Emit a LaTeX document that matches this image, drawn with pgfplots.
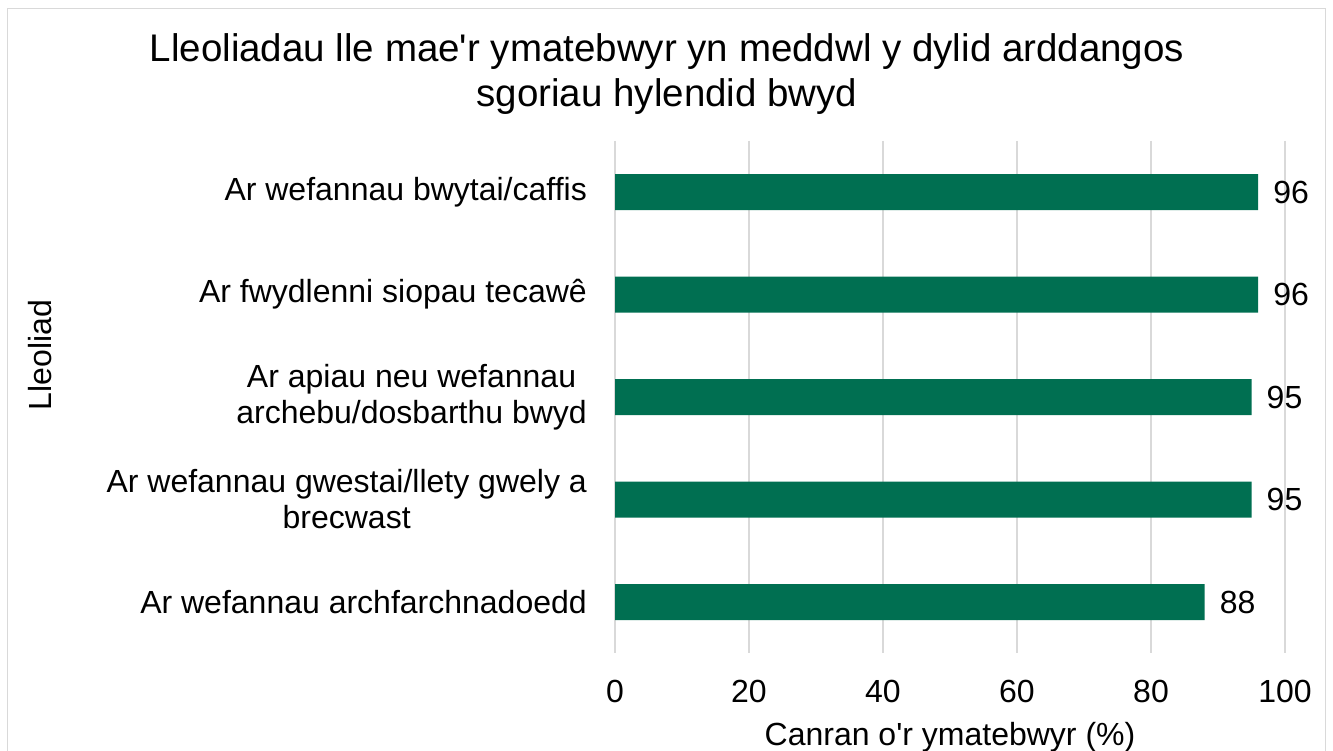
\documentclass[border=0pt]{standalone}
\usepackage{fontspec}
\setmainfont{Liberation Sans}
\usepackage{pgfplots}
\pgfplotsset{compat=1.18}
\definecolor{barc}{HTML}{006F51}
\definecolor{gridc}{HTML}{D9D9D9}
\begin{document}
\begin{tikzpicture}[x=1pt,y=1pt]
\useasboundingbox (0,0) rectangle (1333,-751);
\draw[gridc, line width=1.5pt] (7.5,-800) -- (7.5,-8.5) -- (1325.5,-8.5) -- (1325.5,-800);
\node[align=center, font=\fontsize{38.5}{44.5}\selectfont] at (667,-74) {Lleoliadau lle mae\textquotesingle r ymatebwyr yn meddwl y dylid arddangos\\sgoriau hylendid bwyd};
\node[rotate=90, font=\fontsize{32}{36}\selectfont] at (40,-355) {Lleoliad};
\begin{axis}[
  at={(615pt,-653.25pt)}, anchor=south west,
  scale only axis, width=670pt, height=512.5pt,
  xbar, bar width=36pt,
  xmin=0, xmax=100, ymin=-0.5, ymax=4.5,
  y dir=reverse,
  ytick={0,1,2,3,4},
  yticklabels={Ar wefannau bwytai/caffis, Ar fwydlenni siopau tecawê, {Ar apiau neu wefannau\\archebu/dosbarthu bwyd}, {Ar wefannau gwestai/llety gwely a\\brecwast}, Ar wefannau archfarchnadoedd},
  xtick={0,20,40,60,80,100},
  xmajorgrids, ymajorgrids=false,
  grid style={gridc, line width=1.5pt},
  axis line style={draw=none},
  major tick length=0pt,
  /pgf/number format/assume math mode=true,
  tick label style={font=\fontsize{32}{36}\selectfont},
  yticklabel style={align=center, inner sep=0pt, xshift=-28pt},
  xticklabel style={inner sep=0pt, yshift=-27pt},
  nodes near coords,
  nodes near coords style={anchor=west, inner sep=0pt, xshift=15pt, font=\fontsize{32}{36}\selectfont, /pgf/number format/assume math mode=true},
  xlabel={Canran o\textquotesingle r ymatebwyr (\%)},
  xlabel style={at={(axis description cs:0.5,0)}, anchor=center, yshift=-84pt, font=\fontsize{32}{36}\selectfont},
]
\addplot[fill=barc, draw=none] coordinates {(96,0) (96,1) (95,2) (95,3) (88,4)};
\end{axis}
\end{tikzpicture}
\end{document}
